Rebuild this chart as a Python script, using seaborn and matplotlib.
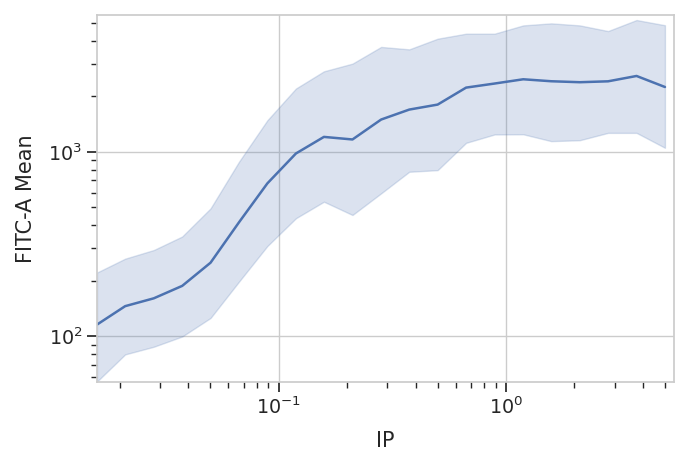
import pandas as pd
import matplotlib
matplotlib.use("Agg")
import matplotlib.pyplot as plt
import seaborn as sns

# IP dilution series (log spaced)
ip = [5.0, 3.75, 2.81, 2.11, 1.58, 1.19, 0.890, 0.667, 0.500, 0.375, 0.282,
      0.211, 0.158, 0.119, 0.0891, 0.0668, 0.0501, 0.0376, 0.0282, 0.0211, 0.01586]

# mean signal and band limits (same order as ip)
fitc_mean = [2245, 2576, 2410, 2383, 2412, 2472, 2344, 2228, 1803, 1694, 1496,
             1167, 1205, 980, 675, 415, 251, 188, 161, 146, 116]
band_low = [1052, 1267, 1267, 1156, 1143, 1245, 1242, 1119, 796, 780, 596,
            455, 537, 437, 309, 198, 126, 100, 88, 80, 57]
band_high = [4850, 5175, 4510, 4840, 4965, 4840, 4365, 4365, 4100, 3590, 3700,
             3005, 2730, 2203, 1483, 883, 494, 348, 294, 264, 222]

df = pd.DataFrame({"IP": ip, "FITC-A Mean": fitc_mean,
                   "low": band_low, "high": band_high}).sort_values("IP")

sns.set_theme(context="notebook", style="whitegrid", font_scale=1.25,
              rc={"xtick.bottom": True, "ytick.left": True,
                  "xtick.major.size": 7, "ytick.major.size": 7,
                  "xtick.minor.size": 4.5, "ytick.minor.size": 4.5,
                  "axes.labelpad": 9})

fig, ax = plt.subplots(figsize=(6.9, 4.68), dpi=100)
sns.lineplot(data=df, x="IP", y="FITC-A Mean", color="C0", linewidth=1.8, ax=ax)
ax.fill_between(df["IP"], df["low"], df["high"], color="C0", alpha=0.2)

ax.set_xscale("log")
ax.set_yscale("log")
ax.set_xlim(0.01586, 5.48)
ax.set_ylim(56.7, 5510)

fig.subplots_adjust(left=97 / 690, right=674 / 690, top=1 - 15 / 468, bottom=1 - 382 / 468)
fig.savefig("out.png")
